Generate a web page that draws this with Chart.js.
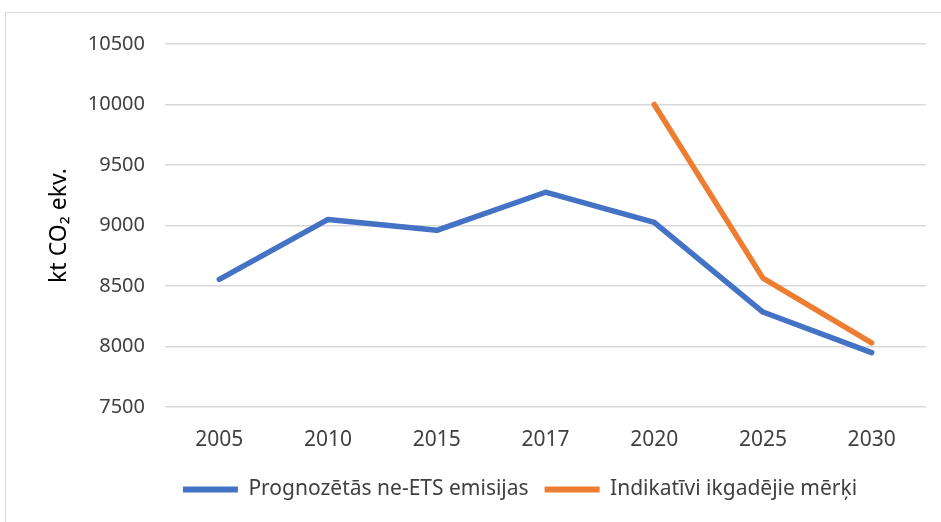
<!DOCTYPE html>
<html>
<head>
<meta charset="utf-8">
<script src="https://cdn.jsdelivr.net/npm/chart.js@4"></script>
<style>
  html, body { margin: 0; padding: 0; background: #fff; }
  #wrap { position: relative; width: 941px; height: 522px; }
  #frame { position: absolute; left: 5px; top: 12px; right: -4px; bottom: -4px; border: 1.5px solid #d9d9d9; }
  canvas { position: absolute; left: 0; top: 0; }
</style>
</head>
<body>
<div id="wrap">
  <div id="frame"></div>
  <canvas id="chart" width="941" height="522"></canvas>
</div>
<script>
"use strict";

// ── Data ───────────────────────────────────────────────────────────────────
const years     = ["2005", "2010", "2015", "2017", "2020", "2025", "2030"];
const projected = [8555, 9050, 8960, 9275, 9025, 8285, 7950];
const targets   = [null, null, null, null, 10000, 8565, 8030];

const BLUE   = "#4472C4";
const ORANGE = "#ED7D31";
const FONT   = "'Noto Sans', 'DejaVu Sans', sans-serif";

// nudge the legend a little right / up, like the original
const legendShift = {
  id: "legendShift",
  afterLayout(chart) {
    const lg = chart.legend;
    lg.left += 34; lg.right += 34;
    lg.top -= 4; lg.bottom -= 4;
  },
};

// ── Chart ──────────────────────────────────────────────────────────────────
new Chart(document.getElementById("chart"), {
  type: "line",
  plugins: [legendShift],
  data: {
    labels: years,
    datasets: [
      {
        label: "Prognozētās ne-ETS emisijas",
        data: projected,
        borderColor: BLUE,
        backgroundColor: BLUE,
        borderWidth: 5.5,
        pointRadius: 0,
        borderJoinStyle: "round",
        borderCapStyle: "round",
      },
      {
        label: "Indikatīvi ikgadējie mērķi",
        data: targets,
        borderColor: ORANGE,
        backgroundColor: ORANGE,
        borderWidth: 5.5,
        pointRadius: 0,
        borderJoinStyle: "round",
        borderCapStyle: "round",
      },
    ],
  },
  options: {
    responsive: false,
    animation: false,
    layout: { padding: { top: 44, right: 15, left: 46, bottom: 8 } },
    scales: {
      x: {
        offset: true,
        grid: { display: false },
        border: { display: false },
        ticks: { color: "#404040", font: { family: FONT, size: 21 }, padding: 12 },
        afterFit: (s) => { s.height = 60; },
      },
      y: {
        min: 7500,
        max: 10500,
        ticks: {
          stepSize: 500,
          color: "#404040",
          font: { family: FONT, size: 20 },
          padding: 20,
          callback: (v) => String(v),
        },
        grid: { color: "#d9d9d9", lineWidth: 1.5, drawTicks: false },
        border: { display: false },
        title: {
          display: true,
          text: "kt CO₂ ekv.",
          color: "#000",
          font: { family: FONT, size: 23 },
          padding: { top: 0, bottom: 4 },
        },
        afterFit: (s) => { s.width = 119; },
      },
    },
    plugins: {
      tooltip: { enabled: false },
      legend: {
        position: "bottom",
        labels: {
          color: "#404040",
          font: { family: FONT, size: 21 },
          boxWidth: 55,
          boxHeight: 6,
          padding: 16,
          generateLabels: (chart) =>
            Chart.defaults.plugins.legend.labels.generateLabels(chart).map((l) => ({ ...l, lineWidth: 0 })),
        },
      },
    },
  },
});
</script>
</body>
</html>
